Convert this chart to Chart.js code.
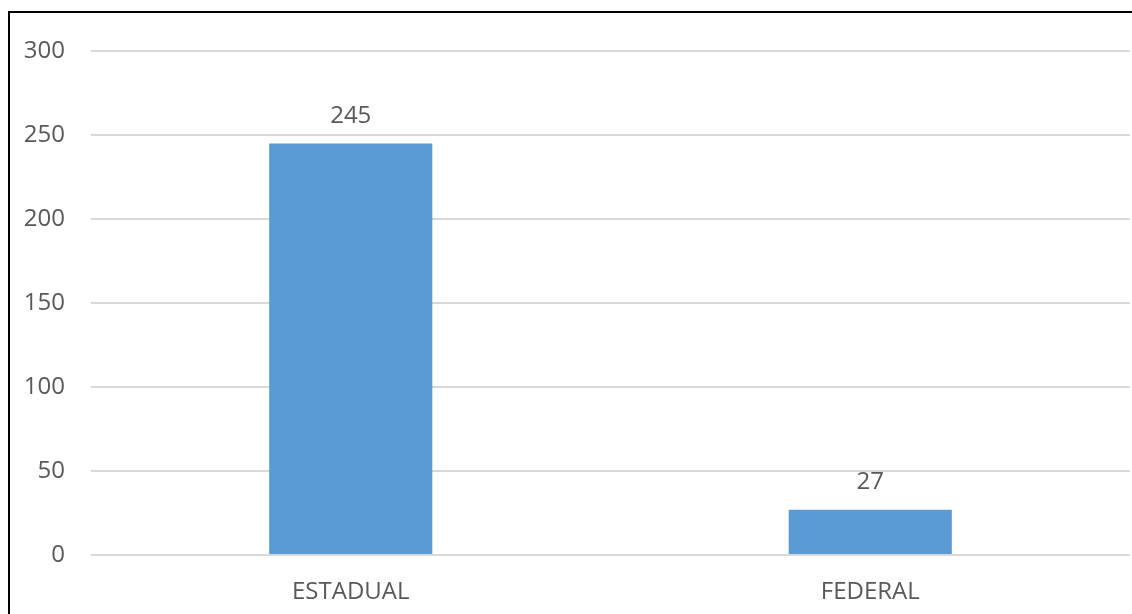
<!DOCTYPE html>
<html lang="pt">
  <head>
    <meta charset="UTF-8" />
    <title>Estadual x Federal</title>
    <script src="https://cdn.jsdelivr.net/npm/chart.js"></script>
    <style>
      html, body { margin: 0; padding: 0; background: #fff; overflow: hidden; }
      #frame {
        position: absolute; left: 8px; top: 11px;
        width: 1124px; height: 603px;
        border-left: 2px solid #000; border-top: 2px solid #000;
      }
      #wrap { position: absolute; left: 0; top: 0; width: 1132px; height: 614px; }
    </style>
  </head>
  <body>
    <div id="frame"></div>
    <div id="wrap"><canvas id="chart"></canvas></div>
    <script>
      // data
      const categories = ["ESTADUAL", "FEDERAL"];
      const values = [245, 27];
      const yTicks = [0, 50, 100, 150, 200, 250, 300];

      const textColor = "#595959";
      const fontFamily = "'Open Sans', 'Noto Sans', sans-serif";

      // value labels above each bar
      const barLabels = {
        id: "barLabels",
        afterDatasetsDraw(chart) {
          const ctx = chart.ctx;
          const meta = chart.getDatasetMeta(0);
          ctx.save();
          ctx.fillStyle = textColor;
          ctx.font = "24px " + fontFamily;
          ctx.textAlign = "center";
          ctx.textBaseline = "bottom";
          meta.data.forEach((bar, i) => {
            ctx.fillText(values[i], bar.x, bar.y - 15);
          });
          ctx.restore();
        },
      };

      new Chart(document.getElementById("chart"), {
        type: "bar",
        data: {
          labels: categories,
          datasets: [
            {
              data: values,
              backgroundColor: "#5B9BD5",
              borderWidth: 0,
              categoryPercentage: 1,
              barPercentage: 0.314,
            },
          ],
        },
        options: {
          responsive: true,
          maintainAspectRatio: false,
          animation: false,
          layout: { padding: { top: 51, right: 2, left: 0, bottom: 0 } },
          plugins: { legend: { display: false }, tooltip: { enabled: false } },
          scales: {
            x: {
              grid: { display: false },
              border: { display: false },
              ticks: { color: textColor, font: { size: 24, family: fontFamily }, padding: 15 },
              afterFit(axis) { axis.height = 59; },
            },
            y: {
              min: 0,
              max: 300,
              afterBuildTicks(axis) { axis.ticks = yTicks.map((v) => ({ value: v })); },
              grid: { color: "#d9d9d9", lineWidth: 2, drawTicks: false },
              border: { display: false },
              ticks: { color: textColor, font: { size: 24, family: fontFamily }, padding: 26 },
              afterFit(axis) { axis.width = 91; },
            },
          },
        },
        plugins: [barLabels],
      });
    </script>
  </body>
</html>
